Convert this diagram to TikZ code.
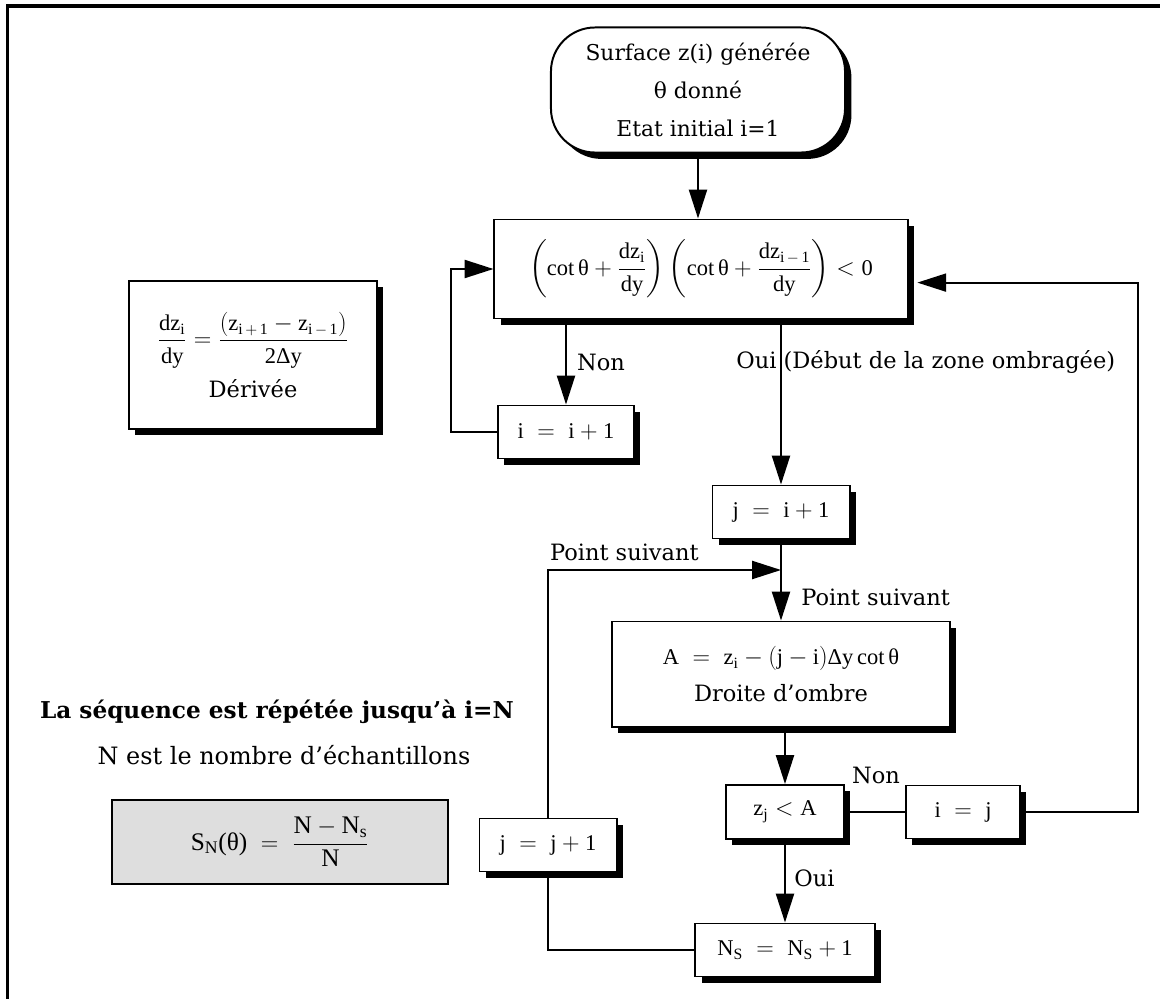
\documentclass[tikz,border=0pt]{standalone}
\usepackage{amsmath}
\usepackage{fontspec}
\setmainfont{DejaVu Serif}
\newfontfamily\formfont{Liberation Serif}
\newcommand{\ff}[1]{\text{\formfont #1}}
\usetikzlibrary{arrows.meta,shadows}

\begin{document}
\begin{tikzpicture}[x=0.025cm,y=-0.025cm,
  font=\fontsize{16}{19}\selectfont,
  line width=1.4pt,
  arr/.style={-{Triangle[length=0.72cm,width=0.45cm]}},
  box/.style={draw,fill=white,line width=1.4pt,inner sep=0pt,align=center,
    drop shadow={shadow xshift=0.16cm,shadow yshift=-0.16cm,fill=black,opacity=1}},
  lbl/.style={inner sep=1pt}]
\useasboundingbox (0,0) rectangle (1160,999);
%
\draw[line width=2.2pt] (1160,6) -- (7.5,6) -- (7.5,999);
%
\node[box,rounded corners=1.1cm,minimum width=7.35cm,minimum height=3.125cm,
  font=\fontsize{15.5}{27}\selectfont] (start) at (698,90)
  {Surface z(i) générée\\ θ donné\\ Etat initial i=1};
%
\node[box,minimum width=10.325cm,minimum height=2.475cm] (test) at (701,269)
  {$\left(\ff{cot\,θ} + \dfrac{\ff{dz}_{\ff{i}}}{\ff{dy}}\right)\left(\ff{cot\,θ} + \dfrac{\ff{dz}_{\ff{i}\,-\,\ff{1}}}{\ff{dy}}\right) < \ff{0}$};
%
\node[box,minimum width=3.4cm,minimum height=1.325cm] (incr) at (566,432)
  {$\ff{i} \;=\; \ff{i} + \ff{1}$};
\node[box,minimum width=3.425cm,minimum height=1.325cm] (jinit) at (781,512)
  {$\ff{j} \;=\; \ff{i} + \ff{1}$};
\node[box,minimum width=8.45cm,minimum height=2.625cm,
  font=\fontsize{16}{26}\selectfont] (ombre) at (781,674)
  {$\ff{A} \;=\; \ff{z}_{\ff{i}} - (\ff{j} - \ff{i})\ff{Δy\,cot\,θ}$\\ Droite d'ombre};
\node[box,minimum width=2.95cm,minimum height=1.35cm] (cmp) at (785,812)
  {$\ff{z}_{\ff{j}} < \ff{A}$};
\node[box,minimum width=2.85cm,minimum height=1.325cm] (reset) at (963,812)
  {$\ff{i} \;=\; \ff{j}$};
\node[box,minimum width=4.475cm,minimum height=1.325cm] (ns) at (785,950)
  {$\ff{N}_{\ff{S}} \;=\; \ff{N}_{\ff{S}} + \ff{1}$};
\node[box,minimum width=3.425cm,minimum height=1.325cm] (jnext) at (548,845)
  {$\ff{j} \;=\; \ff{j} + \ff{1}$};
%
\node[box,minimum width=6.2cm,minimum height=3.7cm,
  font=\fontsize{16}{36}\selectfont] (deriv) at (253,355)
  {$\dfrac{\ff{dz}_{\ff{i}}}{\ff{dy}} = \dfrac{(\ff{z}_{\ff{i}\,+\,\ff{1}} - \ff{z}_{\ff{i}\,-\,\ff{1}})}{\ff{2Δy}}$\\ Dérivée};
%
\node[font=\fontsize{16.5}{19}\selectfont\bfseries] (seq) at (277,712)
  {La séquence est répétée jusqu'à i=N};
\node[font=\fontsize{17}{20}\selectfont] (nb) at (284,755) {N est le nombre d'échantillons};
\node[draw,fill=black!13,line width=0.8pt,minimum width=8.4cm,minimum height=2.1cm,
  font=\fontsize{18}{21}\selectfont] (sn) at (280,842)
  {$\ff{S}_{\ff{N}}\ff{(θ)} \;=\; \dfrac{\ff{N} - \ff{N}_{\ff{s}}}{\ff{N}}$};
%
\coordinate (merge) at (781,570);
\draw[arr] (start.south) -- (start.south |- test.north);
\draw[arr] (incr.north |- test.south) -- (incr.north);
\draw[arr] (jinit.north |- test.south) -- (jinit.north);
\draw[arr] (incr.west) -- ++(-46,0) |- (test.west);
\draw (jinit.south) -- (merge);
\draw[arr] (merge) -- (ombre.north);
\draw[arr] (jnext.north) |- (merge);
\draw[arr] (cmp.north |- ombre.south) -- (cmp.north);
\draw (cmp.east) -- (reset.west);
\draw[arr] (reset.east) -- (1138,812) |- ([xshift=0.22cm,yshift=-0.34cm]test.east);
\draw[arr] (cmp.south) -- (ns.north);
\draw (ns.west) -| (jnext.south);
%
\node[lbl] (nonA) at (601,362) {Non};
\node[lbl,anchor=west] (ouiA) at (734,362) {Oui (Début de la zone ombragée)};
\node[lbl,anchor=east] (suivA) at (701,552) {Point suivant};
\node[lbl,anchor=west] (suivB) at (799,597) {Point suivant};
\node[lbl] (nonB) at (876,775) {Non};
\node[lbl,anchor=west] (ouiB) at (792,878) {Oui};
\end{tikzpicture}
\end{document}
